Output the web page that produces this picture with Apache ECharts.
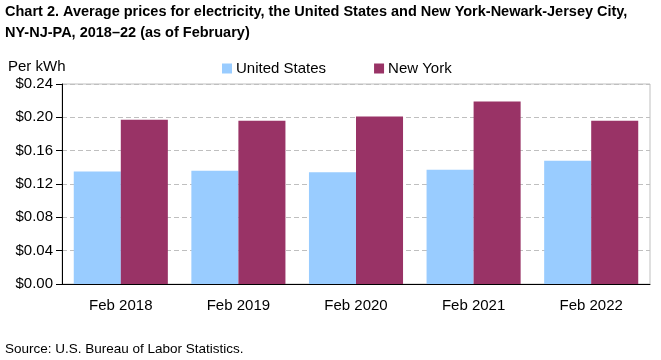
<!DOCTYPE html>
<html>
<head>
<meta charset="utf-8">
<script src="https://cdn.jsdelivr.net/npm/echarts@6/dist/echarts.min.js"></script>
<style>
html,body{margin:0;padding:0;background:#fff;}
#chart{width:661px;height:360px;}
</style>
</head>
<body>
<div id="chart"></div>
<script>
const categories = ['Feb 2018', 'Feb 2019', 'Feb 2020', 'Feb 2021', 'Feb 2022'];
const unitedStates = [0.135, 0.136, 0.134, 0.137, 0.148];
const newYork = [0.197, 0.196, 0.201, 0.219, 0.196];
const yTicks = [0, 0.04, 0.08, 0.12, 0.16, 0.20, 0.24];

const FONT = "'Liberation Sans', Arial, sans-serif";
const chart = echarts.init(document.getElementById('chart'), null, {renderer: 'canvas'});
chart.setOption({
  animation: false,
  backgroundColor: '#fff',
  textStyle: {fontFamily: FONT, color: '#000'},
  title: [{
    text: 'Chart 2. Average prices for electricity, the United States and New York-Newark-Jersey City,\nNY-NJ-PA, 2018\u201322 (as of February)',
    left: 5, top: 1, padding: 0,
    textStyle: {fontFamily: FONT, fontSize: 14.5, fontWeight: 'bold', color: '#000', lineHeight: 21}
  }, {
    text: 'Source: U.S. Bureau of Labor Statistics.',
    left: 5, top: 342, padding: 0,
    textStyle: {fontFamily: FONT, fontSize: 13.5, fontWeight: 'normal', color: '#000'}
  }],
  legend: {
    data: ['United States', 'New York'],
    left: 222, top: 61, padding: 0,
    itemWidth: 10, itemHeight: 10, itemGap: 48,
    icon: 'rect',
    textStyle: {fontFamily: FONT, fontSize: 15, color: '#000', padding: [0, 0, 0, -1]}
  },
  grid: {left: 62, right: 11, top: 84, bottom: 76, show: true, borderColor: '#bfbfbf', borderWidth: 1, containLabel: false},
  xAxis: {
    type: 'category', data: categories,
    axisLine: {lineStyle: {color: '#000', width: 1}},
    axisTick: {show: false},
    axisLabel: {fontFamily: FONT, fontSize: 15, color: '#000', margin: 14}
  },
  yAxis: {
    type: 'value', min: 0, max: 0.24, interval: 0.04,
    name: 'Per kWh', nameLocation: 'end', nameGap: 10,
    nameTextStyle: {fontFamily: FONT, fontSize: 15, color: '#000', align: 'left', padding: [0, 0, 0, -54]},
    axisLine: {show: true, lineStyle: {color: '#000', width: 1}},
    axisTick: {show: true, length: 6, lineStyle: {color: '#000'}},
    axisLabel: {fontFamily: FONT, fontSize: 15, color: '#000', margin: 9,
      formatter: v => '$' + v.toFixed(2)},
    splitLine: {lineStyle: {color: '#bfbfbf', type: [5, 3]}}
  },
  series: [{
    name: 'United States', type: 'bar', data: unitedStates,
    itemStyle: {color: '#99ccff'}, barGap: '0%', barCategoryGap: '20%'
  }, {
    name: 'New York', type: 'bar', data: newYork,
    itemStyle: {color: '#993366'}, barGap: '0%', barCategoryGap: '20%'
  }]
});
</script>
</body>
</html>
